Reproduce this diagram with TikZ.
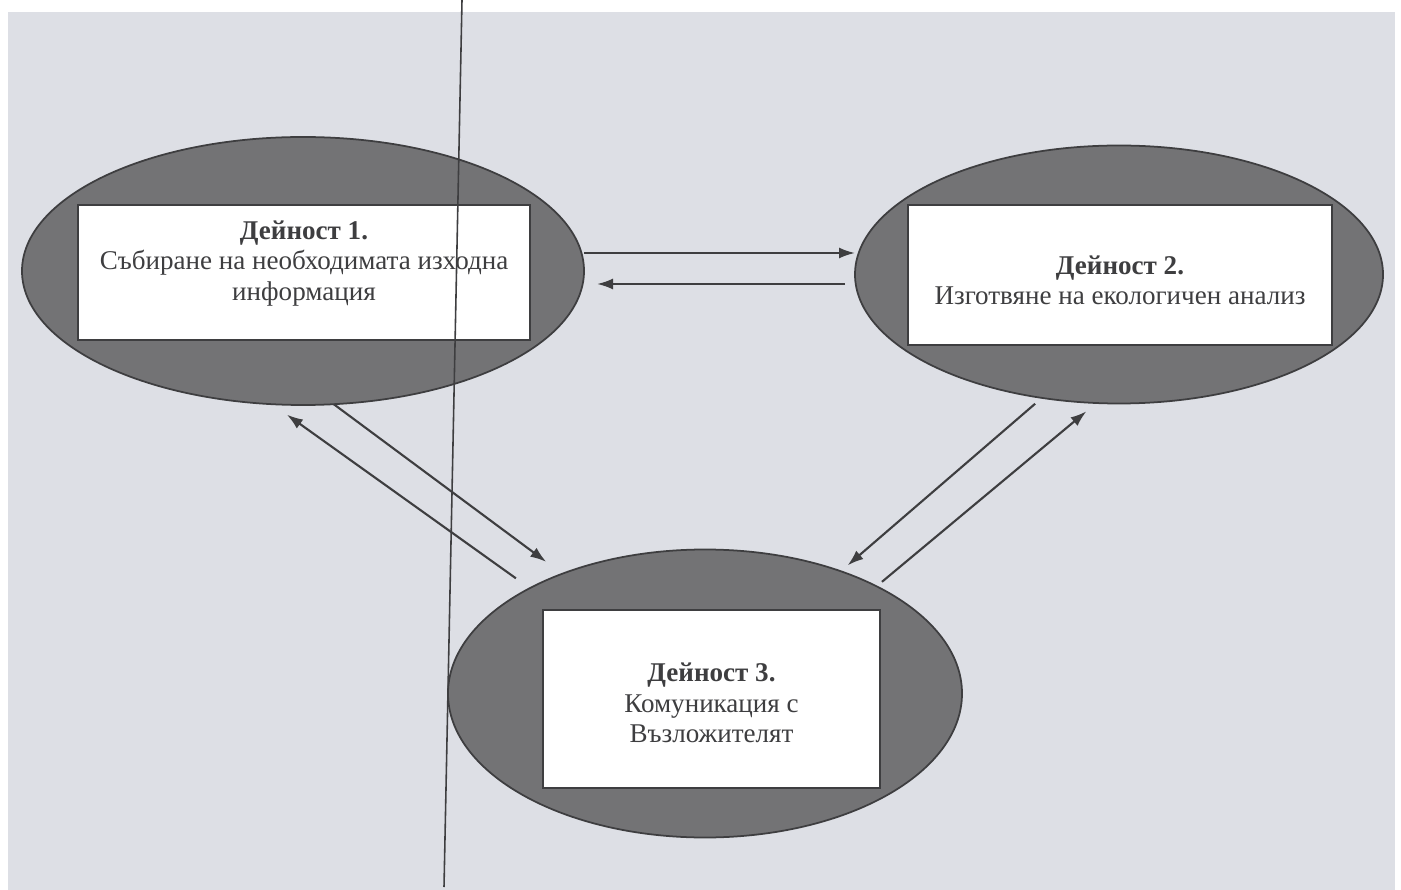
\documentclass[tikz,border=0pt]{standalone}
\usepackage{fontspec}
\setmainfont{Liberation Serif}
\usetikzlibrary{shapes.geometric,arrows.meta}
\definecolor{pagegray}{RGB}{221,223,229}
\definecolor{ovalgray}{RGB}{115,115,117}
\definecolor{inkgray}{RGB}{62,62,64}
\tikzset{
  oval/.style={ellipse, draw=inkgray, line width=0.5pt, fill=ovalgray, inner sep=0pt, outer sep=0pt},
  actbox/.style={rectangle, draw=inkgray, line width=0.5pt, fill=white, inner sep=0pt, outer sep=0pt},
  acttext/.style={align=center, inner sep=0pt, text=inkgray, font=\fontsize{7.7}{8.6}\selectfont},
  flow/.style={-{Latex[length=0.16cm,width=0.11cm]}, line width=0.6pt, draw=inkgray}
}

\begin{document}
\begin{tikzpicture}
        % ==== PAGE ====
        \useasboundingbox (0,0) rectangle (14.01,-8.90);
        \fill[pagegray] (0.08,-0.12) rectangle (13.95,-8.90);
        % ==== OVALS ====
        \node[oval, minimum width=5.62cm, minimum height=2.68cm] (act1) at (3.03,-2.71) {};
        \node[oval, minimum width=5.28cm, minimum height=2.58cm] (act2) at (11.19,-2.745) {};
        \node[oval, minimum width=5.14cm, minimum height=2.88cm] (act3) at (7.05,-6.935) {};
        % ==== BOXES ====
        \node[actbox, minimum width=4.52cm, minimum height=1.35cm] (box1) at (3.04,-2.725) {};
        \node[actbox, minimum width=4.24cm, minimum height=1.40cm] (box2) at (11.20,-2.75) {};
        \node[actbox, minimum width=3.37cm, minimum height=1.78cm] (box3) at (7.115,-6.99) {};
        \node[acttext] (txt1) at ([yshift=0.09cm]box1.center)
            {\textbf{Дейност 1.}\\Събиране на необходимата изходна\\информация};
        \node[acttext] (txt2) at ([yshift=-0.05cm]box2.center)
            {\textbf{Дейност 2.}\\Изготвяне на екологичен анализ};
        \node[acttext] (txt3) at ([yshift=-0.04cm]box3.center)
            {\textbf{Дейност 3.}\\Комуникация с\\Възложителят};
        % ==== ARROWS ====
        \draw[flow] ([yshift=0.18cm]act1.east) -- ([yshift=0.18cm]act1.east -| act2.west);
        \draw[flow, shorten <=0.10cm, shorten >=0.13cm] ([yshift=-0.13cm]act1.east -| act2.west) -- ([yshift=-0.13cm]act1.east);
        \draw[flow, shorten >=0.20cm] (act1.-77.4) -- (act3.140.8);
        \draw[flow, shorten <=0.17cm, shorten >=0.18cm] (act3.149.7) -- (act1.257.3);
        \draw[flow, shorten <=0.09cm, shorten >=0.09cm] (act2.238.1) -- (act3.42.8);
        \draw[flow, shorten <=0.07cm, shorten >=0.13cm] (act3.32.1) -- (act2.260.9);
        % ==== SCAN LINE ====
        \draw[line width=0.45pt, inkgray] (4.62,0) -- (4.44,-8.87);
\end{tikzpicture}
\end{document}
